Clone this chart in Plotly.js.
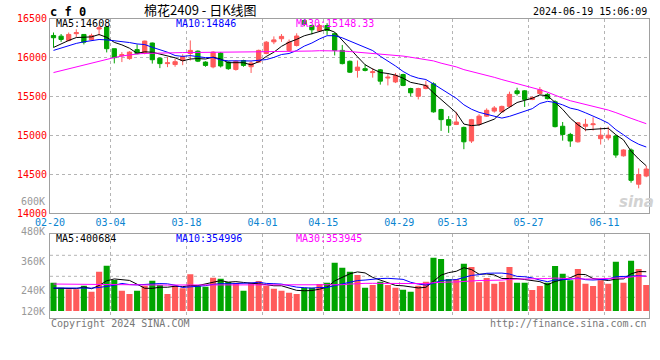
<!DOCTYPE html>
<html>
<head>
<meta charset="utf-8">
<script src="https://cdn.plot.ly/plotly-3.0.1.min.js"></script>
<style>
html,body{margin:0;padding:0;background:#fff;}
#chart{width:660px;height:360px;}
</style>
</head>
<body>
<div id="chart"></div>
<script>
// ---- data ----
const dates = ['02-22','02-23','02-26','02-27','02-28','02-29','03-01','03-04','03-05','03-06',
'03-07','03-08','03-11','03-12','03-13','03-14','03-15','03-18','03-19','03-20',
'03-21','03-22','03-25','03-26','03-27','03-28','03-29','04-01','04-02','04-03',
'04-08','04-09','04-10','04-11','04-12','04-15','04-16','04-17','04-18','04-19',
'04-22','04-23','04-24','04-25','04-26','04-29','04-30','05-06','05-07','05-08',
'05-09','05-10','05-13','05-14','05-15','05-16','05-17','05-20','05-21','05-22',
'05-23','05-24','05-27','05-28','05-29','05-30','05-31','06-03','06-04','06-05',
'06-06','06-07','06-11','06-12','06-13','06-14','06-17','06-18','06-19'];

const openP = [16282,16273,16218,16305,16295,16227,16365,16390,16112,16020,
15985,16100,16055,16185,15990,15920,15908,15960,16050,16080,
15940,15878,16055,15940,15845,15960,15880,15940,16050,16200,
16240,16090,16153,16474,16410,16340,16410,16305,16090,15950,
15833,15855,15805,15840,15735,15685,15780,15600,15500,15600,
15660,15330,15200,15138,15100,14925,15140,15245,15310,15300,
15370,15570,15570,15460,15535,15525,15430,15115,15010,14915,
15115,15135,14955,14965,14990,14735,14810,14370,14475];
const highP = [16320,16300,16320,16360,16300,16305,16410,16400,16112,16068,
16080,16167,16215,16190,16000,16005,15985,16040,16218,16090,
15950,16080,16070,15950,15960,15970,15950,16100,16210,16270,
16300,16230,16310,16490,16420,16430,16440,16320,16160,15960,
15960,15910,15860,15850,15790,15800,15790,15610,15610,15700,
15680,15340,15245,15300,15110,15210,15270,15345,15375,15380,
15560,15610,15580,15500,15620,15540,15450,15170,15030,15170,
15210,15230,15100,15110,15000,14820,14830,14573,14607];
const lowP = [16128,16200,16205,16262,16167,16220,16282,16064,15923,15940,
15970,16040,16040,15920,15862,15875,15880,15900,15960,15940,
15880,15860,15870,15840,15830,15880,15800,15930,16040,16170,
16200,16070,16140,16400,16295,16330,16290,16025,15910,15800,
15740,15820,15740,15650,15640,15670,15630,15500,15460,15590,
15290,15055,15030,15130,14820,14900,15120,15235,15290,15290,
15360,15510,15363,15450,15525,15460,15100,14930,14850,14905,
15050,15060,14880,14935,14710,14725,14390,14317,14460];
const closeP = [16253,16231,16295,16318,16196,16282,16380,16112,15997,16035,
16068,16048,16210,15970,15920,15930,15945,16010,16090,15952,
15897,16068,15890,15855,15950,15897,15927,16090,16196,16225,
16270,16196,16275,16423,16355,16410,16346,16090,15920,15810,
15875,15833,15815,15695,15745,15770,15640,15545,15600,15640,
15300,15200,15128,15170,14915,15200,15245,15320,15350,15370,
15525,15535,15460,15485,15585,15470,15110,15010,14925,15160,
15140,15145,15000,15000,14745,14810,14420,14495,14565];

const ma5 = [16128,16175,16218,16255,16259,16264,16294,16258,16193,16161,
16118,16052,16072,16066,16043,16016,15995,15955,15979,15985,
15979,16003,15979,15932,15932,15932,15904,15944,16012,16067,
16142,16195,16232,16278,16304,16332,16362,16325,16224,16115,
16008,15906,15851,15806,15793,15772,15733,15679,15660,15639,
15545,15457,15374,15288,15143,15123,15132,15170,15206,15297,
15362,15420,15448,15475,15518,15507,15422,15332,15220,15135,
15069,15076,15074,15089,15006,14940,14795,14694,14607];
const ma10 = [16090,16120,16150,16180,16200,16215,16230,16225,16215,16210,
16191,16173,16165,16130,16102,16067,16024,16013,16023,16014,
15997,15999,15967,15956,15959,15955,15954,15962,15972,16000,
16037,16050,16088,16145,16185,16237,16279,16279,16251,16210,
16170,16134,16088,16015,15954,15890,15819,15765,15733,15716,
15658,15595,15526,15474,15391,15334,15294,15272,15247,15220,
15242,15276,15309,15341,15408,15435,15421,15390,15348,15327,
15288,15249,15203,15155,15071,15005,14936,14884,14848];
const ma30 = [15805,15830,15855,15880,15905,15930,15955,15978,15998,16018,
16033,16044,16051,16055,16058,16060,16061,16062,16063,16063,
16064,16064,16065,16066,16067,16068,16070,16072,16074,16075,
16075,16074,16073,16077,16082,16086,16086,16085,16082,16075,
16068,16061,16048,16039,16033,16027,16017,16002,15985,15975,
15955,15926,15901,15878,15843,15820,15797,15772,15744,15715,
15690,15668,15641,15610,15584,15553,15511,15476,15443,15421,
15396,15373,15346,15323,15290,15258,15217,15182,15148];

const volume = [289000,238000,221000,221000,258000,197000,401000,462000,316000,207000,
173000,207000,258000,309000,265000,173000,258000,232000,374000,258000,
248000,340000,329000,296000,283000,207000,289000,306000,258000,227000,
207000,187000,173000,238000,238000,275000,289000,493000,442000,401000,
367000,238000,265000,299000,265000,238000,217000,197000,258000,299000,
544000,530000,326000,326000,482000,449000,293000,337000,278000,299000,
449000,289000,289000,214000,255000,289000,459000,380000,313000,428000,
278000,255000,313000,278000,503000,289000,513000,428000,265000];
const volMa5 = [232000,232000,230000,228000,245400,227000,259600,307800,326800,316600,
311800,273000,232200,230800,242400,242400,252600,247400,260400,259000,
274000,290400,309800,294200,299200,291000,280800,276200,268600,257400,
257400,237000,210400,206400,208600,222200,242600,306600,347400,380000,
398400,388200,342600,314000,286800,261000,256800,243200,235000,241800,
303000,365600,391400,405000,441600,422600,375200,377400,367800,331200,
331200,330400,320800,308000,299200,267200,301200,319400,339200,373800,
371600,330800,317400,310400,325400,327600,379200,402200,400684];
const volMa10 = [235000,234000,233000,232000,232000,233000,240000,250000,262000,281000,
269400,266300,270000,278800,279500,277100,262800,239800,245600,250700,
258200,271500,278600,277300,279100,282500,285600,293000,281400,278300,
274200,258900,243300,237500,233000,239800,239800,258500,276900,294300,
310300,315400,324600,330700,333400,329700,322500,292900,274500,264300,
282000,311200,317300,320000,341700,362800,370400,384400,386400,386400,
376900,352800,349100,337900,315200,299200,315800,320100,323600,336500,
319400,316000,318400,324800,349600,349600,355000,359800,354996];
const volMa30 = [275000,274000,273000,271000,269000,268000,267000,266000,266000,265000,
265000,264000,264000,264000,264000,264000,265000,265000,265000,266000,
266000,267000,267000,268000,268000,268000,269000,269000,270000,270000,
267300,265600,264000,264500,263900,266500,262700,263800,268000,274400,
280900,281900,282200,281800,281800,284000,282600,281500,277600,279000,
288800,295200,295100,296100,302700,310800,310900,311900,312600,315000,
323100,326500,330300,329500,330100,330600,336200,332500,328200,329100,
326100,326700,328300,327600,335500,337200,347100,354800,353945];

const tickLabels = ['02-20','03-04','03-18','04-01','04-15','04-29','05-13','05-27','06-11'];
const priceTicks = [14000,14500,15000,15500,16000,16500];
const volLabels = ['600K','480K','360K','240K','120K'];

// ---- styles ----
const RED = '#ff5a5a', GREEN = '#00a400';
const MONO = 'DejaVu Sans Mono, monospace';
const W = 660, H = 360;
const px = v => v / W, py = v => 1 - v / H;

const xs = dates.map((d, k) => k);
const xStart = -0.46, xEnd = 78.36;
const tickPos = tickLabels.map(l => { const k = dates.indexOf(l); return k < 0 ? xStart : k + 0.5; });
const volColors = closeP.map((c, k) => c >= openP[k] ? RED : GREEN);

const traces = [
  {type:'candlestick', x:xs, open:openP, high:highP, low:lowP, close:closeP,
   xaxis:'x', yaxis:'y', whiskerwidth:0,
   increasing:{line:{color:RED,width:1}, fillcolor:RED},
   decreasing:{line:{color:GREEN,width:1}, fillcolor:GREEN}, hoverinfo:'skip'},
  {type:'scatter', mode:'lines', x:xs, y:ma5, xaxis:'x', yaxis:'y', line:{color:'#000000',width:1}},
  {type:'scatter', mode:'lines', x:xs, y:ma10, xaxis:'x', yaxis:'y', line:{color:'#0000ff',width:1}},
  {type:'scatter', mode:'lines', x:xs, y:ma30, xaxis:'x', yaxis:'y', line:{color:'#ff00ff',width:1}},
  {type:'bar', x:xs, y:volume, xaxis:'x2', yaxis:'y2', marker:{color:volColors, line:{width:0}}},
  {type:'scatter', mode:'lines', x:xs, y:volMa5, xaxis:'x2', yaxis:'y2', line:{color:'#000000',width:1}},
  {type:'scatter', mode:'lines', x:xs, y:volMa10, xaxis:'x2', yaxis:'y2', line:{color:'#0000ff',width:1}},
  {type:'scatter', mode:'lines', x:xs, y:volMa30, xaxis:'x2', yaxis:'y2', line:{color:'#ff00ff',width:1}}
];

const gridC = '#b4b4b4', frameC = '#a0a0a0';
const xCommon = {range:[xStart, xEnd], tickmode:'array', tickvals:tickPos, ticktext:tickLabels,
  showgrid:true, gridcolor:gridC, griddash:'dot', gridwidth:1, zeroline:false,
  showline:true, mirror:true, linecolor:frameC, linewidth:1, ticks:'', fixedrange:true,
  domain:[px(50), px(649)]};

const ann = [];
function txt(t, x, y, opt) {
  ann.push(Object.assign({text:t, x:px(x), y:py(y), xref:'paper', yref:'paper', showarrow:false,
    xanchor:'left', yanchor:'middle', font:{family:MONO, size:10, color:'#000'}}, opt || {}));
}
txt('c f 0', 48, 12, {font:{family:MONO, size:12, color:'#000', weight:'bold'}});
txt('棉花2409 - 日K线图', 200, 9, {xanchor:'center', font:{family:'Noto Sans CJK SC', size:13, color:'#000'}});
txt('2024-06-19 15:06:09', 649, 11, {xanchor:'right'});
txt('MA5:14608', 54, 24);
txt('MA10:14846', 174, 24, {font:{family:MONO, size:10, color:'#0000ff'}});
txt('MA30:15148.33', 294, 24, {font:{family:MONO, size:10, color:'#ff00ff'}});
txt('MA5:400684', 54, 238.5);
txt('MA10:354996', 174, 238.5, {font:{family:MONO, size:10, color:'#0000ff'}});
txt('MA30:353945', 294, 238.5, {font:{family:MONO, size:10, color:'#ff00ff'}});
const volLabelY = [201, 231, 261.5, 290.5, 311];
volLabels.forEach((l, k) => txt(l, 47, volLabelY[k], {xanchor:'right', font:{family:MONO, size:10, color:'#999999'}}));
txt('Copyright 2024 SINA.COM', 49, 323.5, {font:{family:MONO, size:10, color:'#777777'}});
txt('http://finance.sina.com.cn', 649, 323.5, {xanchor:'right', font:{family:MONO, size:10, color:'#777777'}});
txt('sina', 636, 202, {xanchor:'center', font:{family:'DejaVu Sans', size:15, color:'#d2d2d2', style:'italic', weight:'bold'}});

const shapes = [0.25, 0.5, 0.75].map(f => ({type:'line', xref:'x2 domain', yref:'y2 domain',
  x0:0, x1:1, y0:f, y1:f, line:{color:gridC, width:1, dash:'dot'}, layer:'below'}));

const layout = {
  width:W, height:H, margin:{l:0, r:0, t:0, b:0}, paper_bgcolor:'#fff', plot_bgcolor:'#fff',
  showlegend:false, bargap:0.2, boxgap:0.2,
  xaxis:Object.assign({}, xCommon, {anchor:'y', rangeslider:{visible:false},
    tickfont:{family:MONO, size:10, color:'#0a84d0'}}),
  yaxis:{domain:[py(213), py(18.5)], range:[14000, 16500], tickmode:'array', tickvals:priceTicks,
    ticktext:priceTicks.map(String), tickfont:{family:MONO, size:10, color:'#ff0000'},
    showgrid:true, gridcolor:gridC, griddash:'dot', zeroline:false, showline:true, mirror:true,
    linecolor:frameC, ticks:'', fixedrange:true, anchor:'x'},
  xaxis2:Object.assign({}, xCommon, {anchor:'y2', showticklabels:false}),
  yaxis2:{domain:[py(318.3), py(234.3)], range:[-74500, 782000], showticklabels:false,
    showgrid:false, zeroline:false, showline:true, mirror:true, linecolor:frameC, ticks:'',
    fixedrange:true, anchor:'x2'},
  annotations:ann, shapes:shapes
};

Plotly.newPlot('chart', traces, layout, {staticPlot:true, displayModeBar:false});
</script>
</body>
</html>
